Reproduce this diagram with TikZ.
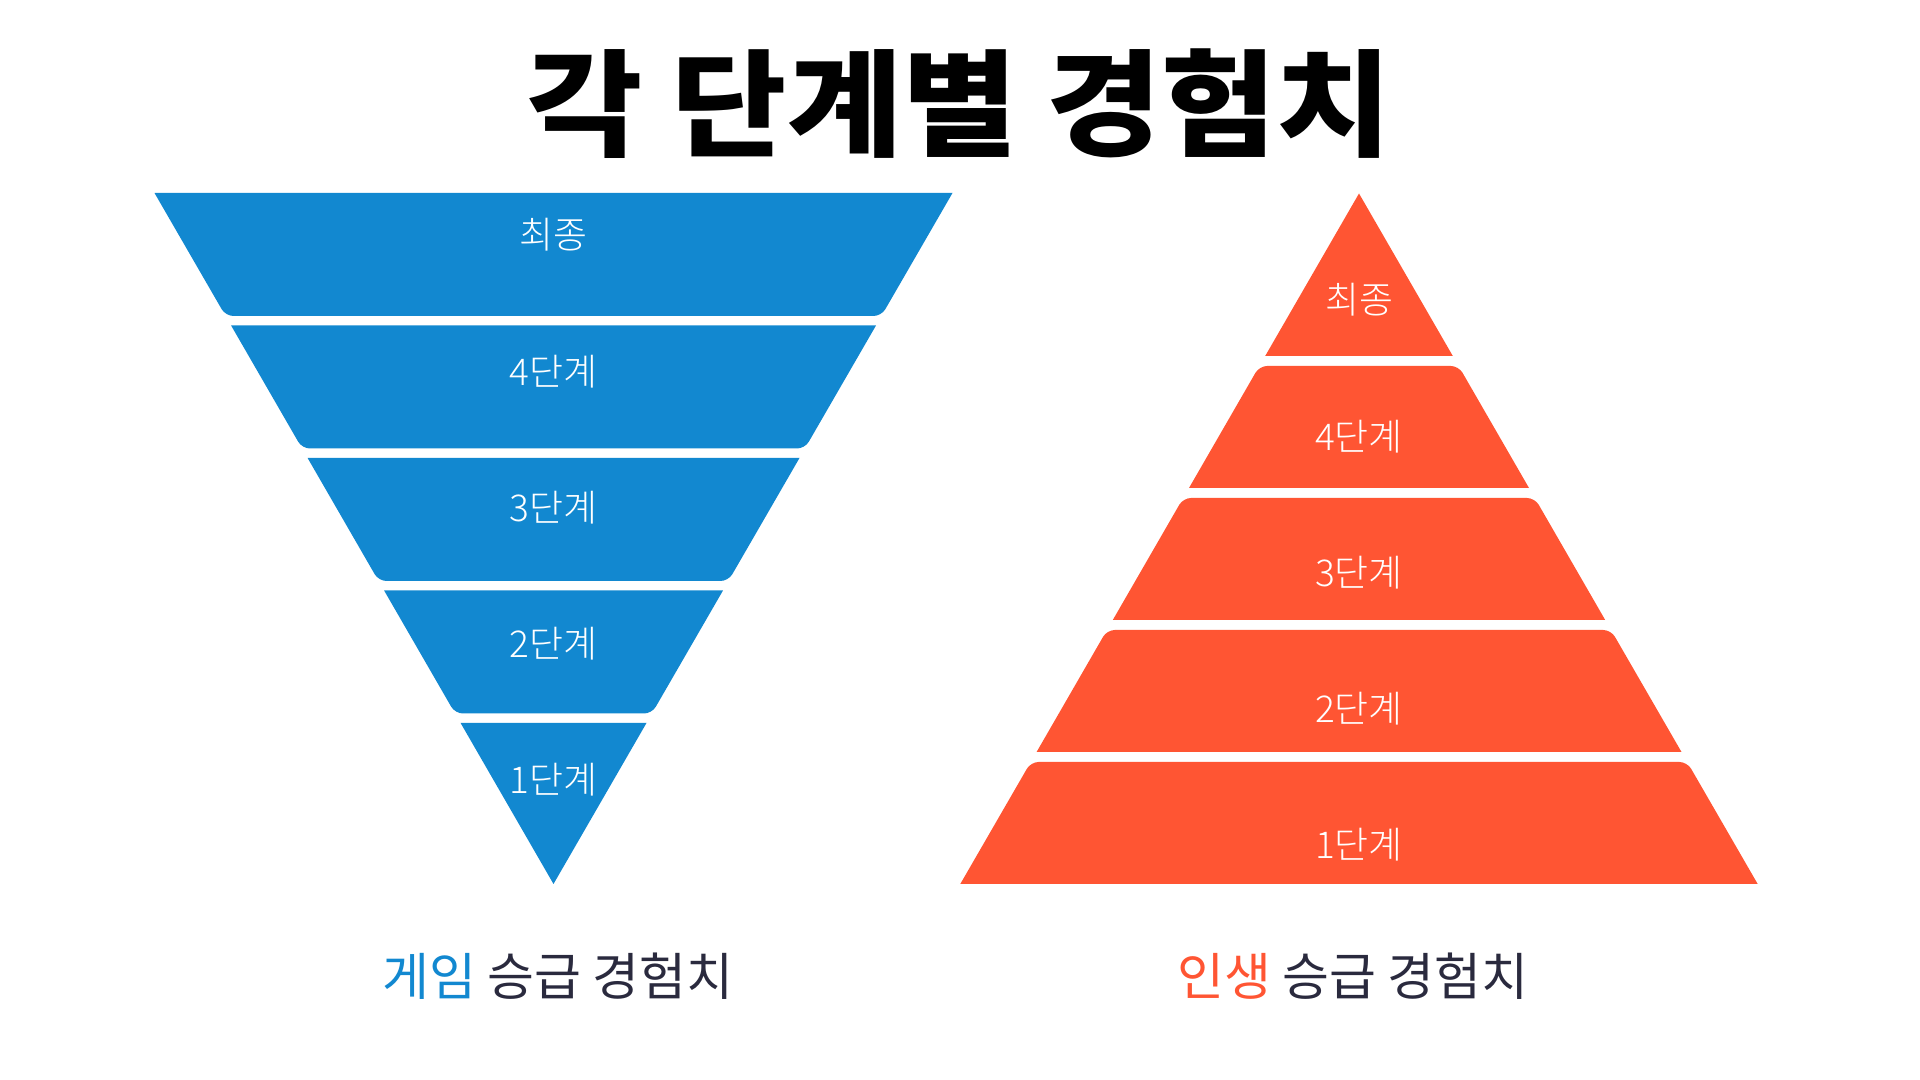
\documentclass[tikz,border=0pt]{standalone}
\usepackage{fontspec}
\usepackage{graphicx}
\usepackage{tikz}
\usetikzlibrary{positioning}

\definecolor{gameblue}{HTML}{1288D0}
\definecolor{lifered}{HTML}{FF5533}
\definecolor{captiondark}{HTML}{2A2A3E}

\newfontfamily\krfont{Noto Sans CJK KR}
\IfFontExistsTF{Noto Sans CJK KR Black}
  {\newfontfamily\krtitle{Noto Sans CJK KR Black}}
  {\newfontfamily\krtitle{Noto Sans CJK KR Bold}}
\IfFontExistsTF{Noto Sans CJK KR Light}
  {\newfontfamily\krlight{Noto Sans CJK KR Light}}
  {\newfontfamily\krlight{Noto Sans CJK KR}}

\begin{document}
\begin{tikzpicture}[
    x=0.01cm, y=-0.01cm,
    every node/.style={align=center, inner sep=0pt},
    gameband/.style={fill=gameblue},
    lifeband/.style={fill=lifered},
    bandlabel/.style={font=\krlight\fontsize{10.5}{12}\selectfont, text=white},
    headline/.style={font=\krtitle\fontsize{33}{38}\selectfont, text=black},
    caption/.style={font=\krfont\fontsize{14.5}{17}\selectfont, text=captiondark}
]
\useasboundingbox (0,0) rectangle (1920,1080);

% title
\node[headline] (title) at (960,104) {\scalebox{1.08}[1]{각 단계별 경험치}};

% game: upside-down pyramid
\fill[gameband] (154.5,193) -- (952.5,193) [rounded corners=2.2pt] -- (881.4,316) -- (225.6,316) [sharp corners] -- cycle;
\fill[gameband] (231.1,325.5) -- (876.0,325.5) [rounded corners=2.2pt] -- (804.9,448.5) -- (302.1,448.5) [sharp corners] -- cycle;
\fill[gameband] (307.6,458) -- (799.5,458) [rounded corners=2.2pt] -- (728.4,581) -- (378.6,581) [sharp corners] -- cycle;
\fill[gameband] (384.1,590.5) -- (723.0,590.5) [rounded corners=2.2pt] -- (651.9,713.5) -- (455.1,713.5) [sharp corners] -- cycle;
\fill[gameband] (460.6,723) -- (646.5,723) -- (553.5,884) -- cycle;

\node[bandlabel] (gfinal) at (553.5,235) {최종};
\node[bandlabel] (gfour)  at (553.5,372) {4단계};
\node[bandlabel] (gthree) at (553.5,508) {3단계};
\node[bandlabel] (gtwo)   at (553.5,644) {2단계};
\node[bandlabel] (gone)   at (553.5,780) {1단계};

% life: pyramid
\fill[lifeband] (1359,193.5) -- (1452.8,356) -- (1265.2,356) -- cycle;
\fill[lifeband] (1529,488) -- (1189,488) [rounded corners=2.2pt] -- (1259.4,366) -- (1458.6,366) [sharp corners] -- cycle;
\fill[lifeband] (1605.2,620) -- (1112.8,620) [rounded corners=2.2pt] -- (1183.2,498) -- (1534.8,498) [sharp corners] -- cycle;
\fill[lifeband] (1681.5,752) -- (1036.6,752) [rounded corners=2.2pt] -- (1107,630) -- (1611,630) [sharp corners] -- cycle;
\fill[lifeband] (1757.7,884) -- (960.3,884) [rounded corners=2.2pt] -- (1030.8,762) -- (1687.2,762) [sharp corners] -- cycle;

\node[bandlabel] (lfinal) at (1359,300) {최종};
\node[bandlabel] (lfour)  at (1359,437) {4단계};
\node[bandlabel] (lthree) at (1359,573) {3단계};
\node[bandlabel] (ltwo)   at (1359,709) {2단계};
\node[bandlabel] (lone)   at (1359,845) {1단계};

% captions
\node[caption] (gcaption) at (558,976)  {{\color{gameblue}게임} 승급 경험치};
\node[caption] (lcaption) at (1353,976) {{\color{lifered}인생} 승급 경험치};
\end{tikzpicture}
\end{document}
